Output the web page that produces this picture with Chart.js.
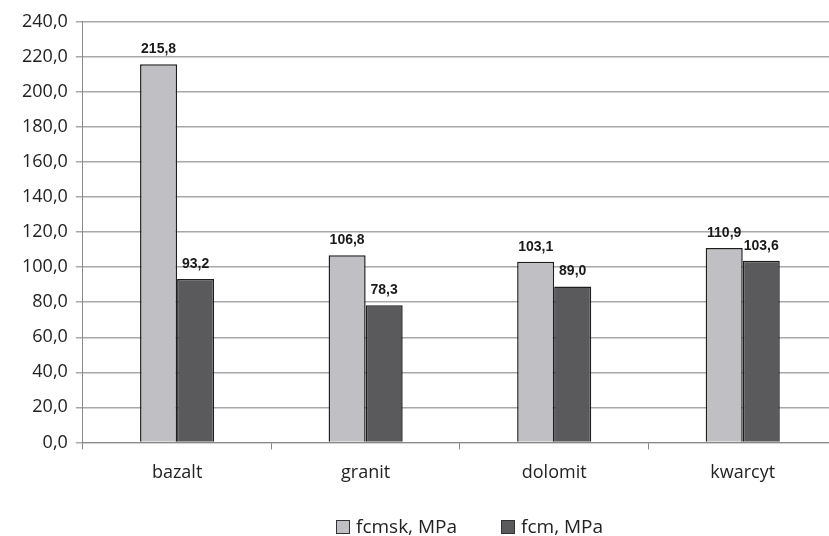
<!DOCTYPE html>
<html><head><meta charset="utf-8">
<script src="https://cdn.jsdelivr.net/npm/chart.js@4/dist/chart.umd.min.js"></script>
<style>html,body{margin:0;padding:0;background:#fff;overflow:hidden;width:829px;height:536px;position:relative}
#wrap{width:837px;height:533px;position:absolute;left:0;top:3px}
#legend{position:absolute;left:336px;top:516px;height:20px;display:flex;gap:44px;font-family:"Open Sans",sans-serif;font-size:19px;line-height:20px;color:#222;white-space:nowrap}
#legend .item{display:flex;align-items:center}
#legend .box{width:12px;height:12px;border:1px solid #333;margin-right:6px;margin-top:1px}</style>
</head><body><div id="wrap"><canvas id="c"></canvas></div><div id="legend"></div>
<script>
const categories = ['bazalt', 'granit', 'dolomit', 'kwarcyt'];
const fcmsk = [215.8, 106.8, 103.1, 110.9];
const fcm = [93.2, 78.3, 89.0, 103.6];
const seriesNames = ['fcmsk, MPa', 'fcm, MPa'];
const yMin = 0, yMax = 240, yStep = 20;

const fmt = v => v.toFixed(1).replace('.', ',');

const labelPlugin = {
  id: 'vlabels',
  afterDatasetsDraw(chart) {
    const ctx = chart.ctx;
    ctx.save();
    ctx.font = 'bold 14px "Liberation Sans", Arial, sans-serif';
    ctx.fillStyle = '#1a1a1a';
    ctx.textAlign = 'center';
    ctx.textBaseline = 'alphabetic';
    chart.data.datasets.forEach((ds, di) => {
      chart.getDatasetMeta(di).data.forEach((bar, i) => {
        ctx.fillText(fmt(ds.data[i]), bar.x, bar.y - 11);
      });
    });
    ctx.restore();
  }
};

const chart = new Chart(document.getElementById('c'), {
  type: 'bar',
  data: {
    labels: categories,
    datasets: [
      { label: seriesNames[0], data: fcmsk, backgroundColor: '#c0c0c4', borderColor: '#1e1e1e', borderWidth: 1.5 },
      { label: seriesNames[1], data: fcm, backgroundColor: '#5a5a5c', borderColor: '#1e1e1e', borderWidth: 1.5 }
    ]
  },
  options: {
    responsive: true,
    maintainAspectRatio: false,
    animation: false,
    layout: { padding: { top: 10, left: 14, right: 0, bottom: 39 } },
    datasets: { bar: { categoryPercentage: 0.393, barPercentage: 1 } },
    plugins: {
      legend: { display: false },
      tooltip: { enabled: false }
    },
    scales: {
      x: {
        offset: true,
        grid: { offset: true, drawOnChartArea: false, drawTicks: true, tickLength: 7, color: '#8a8a8a' },
        border: { color: '#8a8a8a' },
        ticks: { font: { family: '"Open Sans", sans-serif', size: 18 }, color: '#222', padding: 13 }
      },
      y: {
        min: yMin, max: yMax,
        ticks: { stepSize: yStep, callback: v => fmt(v), font: { family: '"Open Sans", sans-serif', size: 18 }, color: '#222', padding: 8 },
        grid: { color: '#a8a8a8', lineWidth: 1.5, tickLength: 7 },
        border: { color: '#8a8a8a' }
      }
    }
  },
  plugins: [labelPlugin]
});

const legendEl = document.getElementById('legend');
chart.data.datasets.forEach(ds => {
  const item = document.createElement('div');
  item.className = 'item';
  const box = document.createElement('span');
  box.className = 'box';
  box.style.background = ds.backgroundColor;
  const txt = document.createElement('span');
  txt.textContent = ds.label;
  item.appendChild(box);
  item.appendChild(txt);
  legendEl.appendChild(item);
});
</script></body></html>
